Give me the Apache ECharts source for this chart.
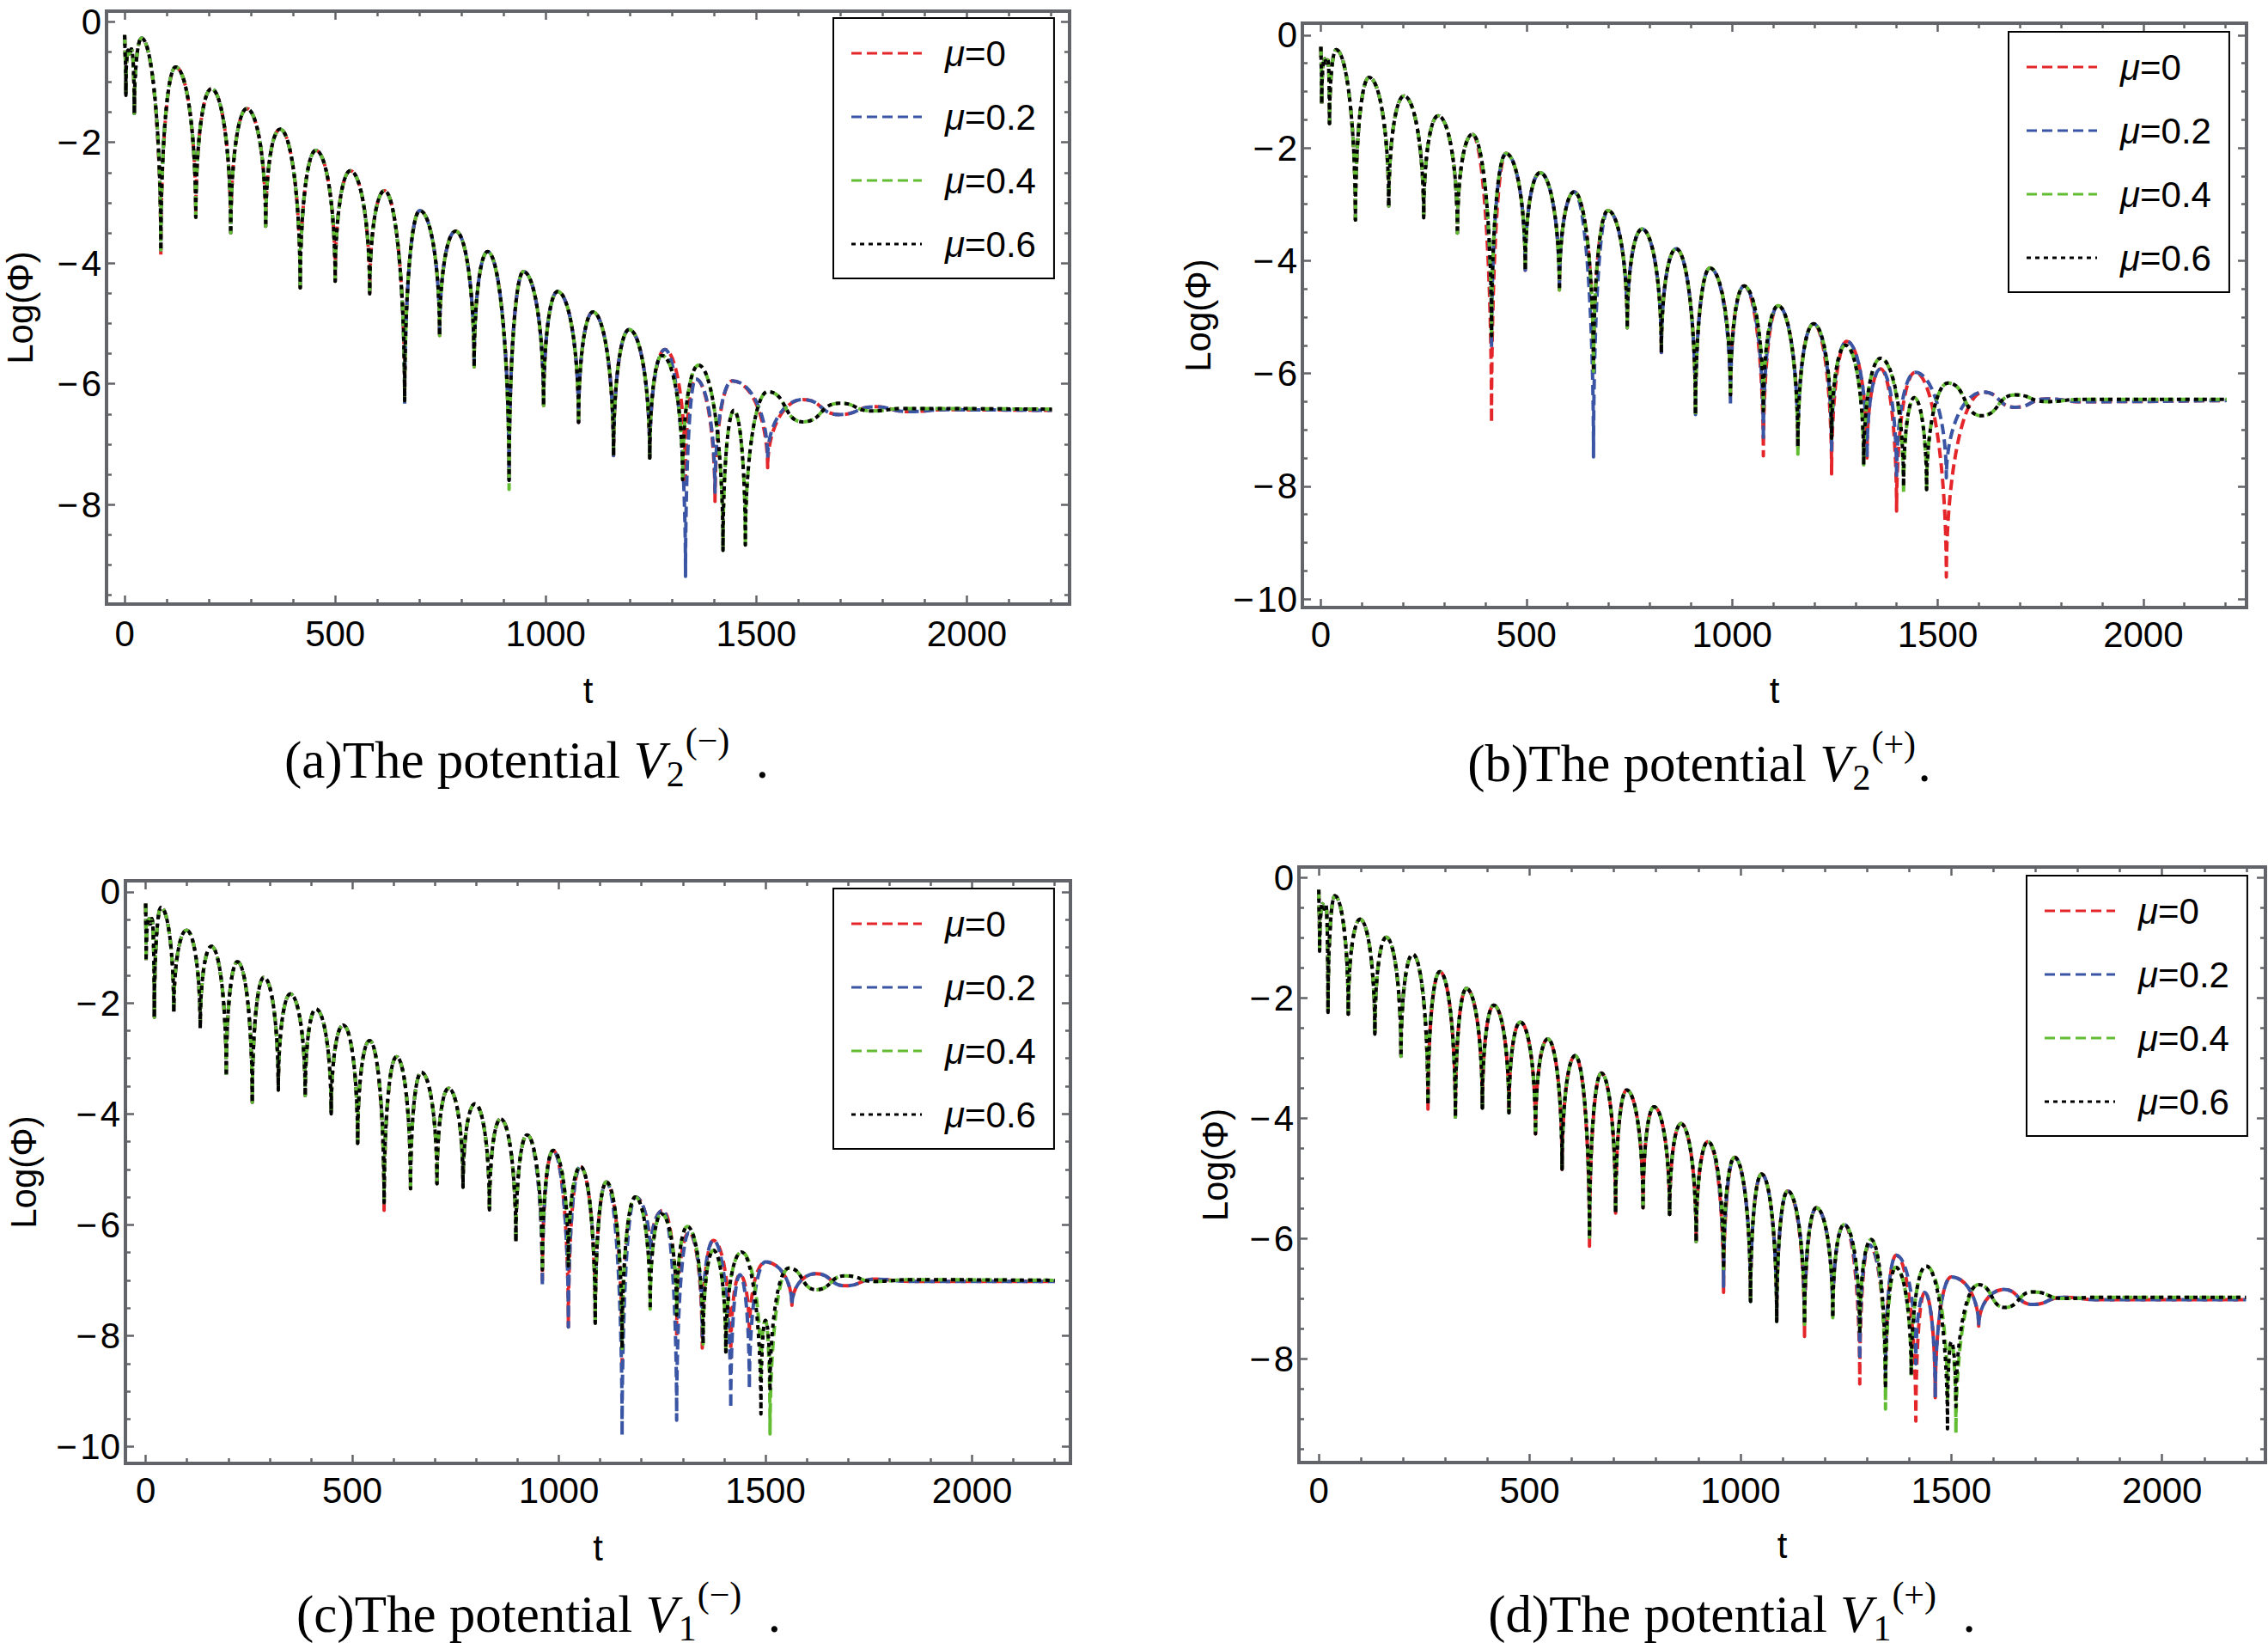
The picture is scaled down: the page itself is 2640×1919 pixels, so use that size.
<!DOCTYPE html>
<html lang="en">
<head>
<meta charset="UTF-8">
<title>Log(Φ) against t for four potentials</title>
<script src="https://cdn.jsdelivr.net/npm/echarts@6/dist/echarts.min.js"></script>
<style>
  html, body { margin: 0; padding: 0; background: #fff; }
  #chart { width: 2640px; height: 1919px; }
</style>
</head>
<body>
<div id="chart"></div>
<script>
// Values: [t, Log(Φ)] at each crest and trough.
// "Head" is the part where all four μ curves coincide, tails split into the
// red/blue pair (μ=0, 0.2) and the green/black pair (μ=0.4, 0.6), and the
// "deep" lists hold troughs where one curve reaches lower than the others.

// (a) V2(-)
var aHead = [[0,-0.22],[3,-1.22],[8,-0.47],[12,-0.53],[16,-0.45],[23,-1.52],[40,-0.27],
  [86,-3.78],[121,-0.75],[169,-3.24],[206,-1.11],[252,-3.5],[290,-1.44],[335,-3.39],[369,-1.78],
  [417,-4.41],[454,-2.13],[500,-4.3],[536,-2.47],[582,-4.51],[617,-2.8],[665,-6.28],[701,-3.13],
  [748,-5.2],[786,-3.47],[830,-5.72],[862,-3.81],[913,-7.6],[947,-4.14],[995,-6.36],[1028,-4.47],
  [1078,-6.64],[1112,-4.81],[1161,-7.19],[1198,-5.1],[1247,-7.23]];
var aTailRB = [[1283,-5.43],[1332,-7.6],[1356,-5.92],[1402,-7.95],[1443,-5.95],[1527,-7.3],
  [1610,-6.26],[1698,-6.51],[1781,-6.38],[1860,-6.46],[1950,-6.43],[2202,-6.44]];
var aTailGK = [[1276,-5.53],[1325,-7.59],[1363,-5.69],[1421,-8.76],[1447,-6.44],[1474,-8.67],
  [1527,-6.13],[1610,-6.63],[1698,-6.32],[1774,-6.45],[1850,-6.41],[2202,-6.42]];
var aDeepR = [[86,-3.89],[1527,-7.39]];
var aDeepB = [[665,-6.36],[1332,-9.19],[1402,-7.8],[1527,-7.23]];
var aDeepG = [[913,-7.75]];
var aDeepK = [];

// (b) V2(+)
var bHead = [[0,-0.21],[2,-1.22],[9,-0.42],[13,-0.5],[17,-0.44],[21,-1.57],[37,-0.26],
  [84,-3.28],[117,-0.75],[165,-3.03],[202,-1.08],[250,-3.24],[285,-1.43],[332,-3.51],[368,-1.76],
  [415,-5.33],[450,-2.1],[497,-4.17],[533,-2.44],[580,-4.52],[616,-2.78],[663,-5.96],[698,-3.11],
  [745,-5.19],[781,-3.44],[828,-5.63],[864,-3.79],[911,-6.73],[946,-4.13],[996,-6.38],[1029,-4.45],
  [1076,-6.66],[1112,-4.8],[1160,-7.3],[1198,-5.12],[1242,-7.15]];
var bTailRB = [[1279,-5.43],[1328,-7.5],[1361,-5.92],[1400,-7.85],[1445,-5.98],[1521,-7.85],
  [1610,-6.33],[1688,-6.6],[1765,-6.45],[1850,-6.5],[2203,-6.48]];
var bTailGK = [[1276,-5.5],[1320,-7.62],[1361,-5.73],[1417,-8.0],[1443,-6.43],[1473,-8.06],
  [1525,-6.17],[1606,-6.75],[1688,-6.38],[1765,-6.5],[1850,-6.46],[2203,-6.46]];
var bDeepR = [[415,-6.87],[1076,-7.46],[1242,-7.78],[1400,-8.44],[1521,-9.61]];
var bDeepB = [[415,-5.54],[663,-7.48],[996,-6.55],[1076,-7.18],[1242,-7.36]];
var bDeepG = [[1160,-7.43],[1417,-8.13]];
var bDeepK = [];

// (c) V1(-)
var cHead = [[0,-0.21],[1,-1.25],[8,-0.48],[12,-0.58],[15,-0.48],[21,-2.26],[37,-0.28],
  [68,-2.17],[99,-0.69],[132,-2.46],[159,-0.98],[195,-3.32],[222,-1.26],[258,-3.79],[286,-1.54],
  [321,-3.57],[350,-1.84],[386,-3.67],[412,-2.11],[449,-4.0],[478,-2.4],[513,-4.53],[542,-2.68],
  [577,-5.6],[607,-2.97],[641,-5.35],[667,-3.25],[705,-5.26],[733,-3.54],[768,-5.32],[797,-3.82],
  [832,-5.73],[859,-4.09],[896,-6.31],[923,-4.38],[960,-6.81],[986,-4.66],[1023,-6.74],[1052,-4.95],
  [1088,-7.77],[1115,-5.23],[1153,-8.23],[1185,-5.5],[1221,-7.52]];
var cTailRB = [[1252,-5.74],[1285,-8.0],[1315,-6.14],[1347,-8.0],[1374,-6.28],[1416,-8.4],
  [1438,-6.9],[1461,-8.0],[1500,-6.67],[1564,-7.45],[1622,-6.88],[1693,-7.1],[1765,-6.98],
  [1850,-7.02],[2200,-7.02]];
var cTailGK = [[1248,-5.8],[1285,-7.63],[1311,-6.03],[1349,-8.15],[1374,-6.46],[1404,-8.29],
  [1442,-6.49],[1489,-8.8],[1500,-7.72],[1511,-9.0],[1556,-6.78],[1622,-7.17],[1693,-6.92],
  [1765,-7.02],[1850,-6.99],[2200,-7.0]];
var cDeepR = [[577,-5.74],[960,-7.0],[1023,-7.84],[1153,-8.5],[1221,-6.6],[1347,-8.22]];
var cDeepB = [[960,-7.11],[1023,-7.84],[1153,-9.8],[1221,-6.6],[1285,-9.52],[1416,-9.3],[1461,-8.95]];
var cDeepG = [[1511,-9.77]];
var cDeepK = [[1489,-9.41]];

// (d) V1(+)
var dHead = [[0,-0.2],[2,-1.22],[9,-0.43],[13,-0.52],[17,-0.45],[22,-2.24],[38,-0.3],
  [70,-2.27],[98,-0.69],[133,-2.6],[160,-0.99],[195,-2.97],[223,-1.27],[259,-3.78],[287,-1.56],
  [324,-3.98],[350,-1.84],[388,-3.83],[415,-2.12],[451,-3.91],[478,-2.4],[514,-4.26],[543,-2.68],
  [577,-4.85],[608,-2.96],[642,-5.98],[670,-3.25],[704,-5.58],[730,-3.53],[769,-5.49],[795,-3.81],
  [832,-5.6],[859,-4.09],[895,-6.05],[923,-4.39],[960,-6.5],[986,-4.65],[1024,-7.05],[1050,-4.93],
  [1086,-7.38],[1112,-5.21],[1152,-7.43],[1180,-5.49],[1219,-7.32],[1246,-5.77]];
var dTailRB = [[1283,-8.02],[1305,-6.11],[1344,-8.3],[1369,-6.28],[1416,-8.09],[1437,-6.9],
  [1462,-8.65],[1500,-6.64],[1565,-7.46],[1624,-6.85],[1693,-7.1],[1765,-6.98],[1850,-7.02],[2199,-7.02]];
var dTailGK = [[1283,-7.59],[1310,-6.02],[1344,-8.5],[1368,-6.48],[1405,-8.28],[1440,-6.46],
  [1491,-8.7],[1500,-7.72],[1511,-8.8],[1564,-6.77],[1627,-7.15],[1693,-6.89],[1765,-7.0],
  [1850,-6.98],[2199,-6.98]];
var dDeepR = [[259,-3.85],[642,-6.13],[960,-6.9],[1152,-7.63],[1283,-8.42],[1344,-8.47],[1416,-9.04]];
var dDeepB = [[960,-6.8]];
var dDeepG = [[1344,-8.84],[1511,-9.24]];
var dDeepK = [[1491,-9.17]];

var NAMES = ['μ=0', 'μ=0.2', 'μ=0.4', 'μ=0.6'];
var X_TICKS = [0, 500, 1000, 1500, 2000];
var X_MINOR = [100, 200, 300, 400, 600, 700, 800, 900, 1100, 1200, 1300, 1400, 1600, 1700, 1800, 1900, 2100, 2200];
var Y_TICKS_8 = [0, -2, -4, -6, -8];
var Y_TICKS_10 = [0, -2, -4, -6, -8, -10];
var Y_MINOR = [-0.5, -1, -1.5, -2.5, -3, -3.5, -4.5, -5, -5.5, -6.5, -7, -7.5, -8.5, -9, -9.5];

var COLORS = ['#e4262b', '#3b55a5', '#63bd33', '#000000'];
var DASHES = [[12, 6], [12, 6], [12, 6], [5, 5]];
var FRAME = '#626469';
var SANS = 'Liberation Sans';
var SERIF = 'Liberation Serif';

var PANELS = [
  { head: aHead, tails: [aTailRB, aTailRB, aTailGK, aTailGK], deep: [aDeepR, aDeepB, aDeepG, aDeepK],
    grid: [124, 13, 1121, 690], x: [-43, 2244], y: [-9.65, 0.175], yTicks: Y_TICKS_8,
    legend: [970, 21], labelGap: 13, tGap: 79, logGap: 80, cap: [613, 903, '(a)', '2', '(\u2212)', true] },
  { head: bHead, tails: [bTailRB, bTailRB, bTailGK, bTailGK], deep: [bDeepR, bDeepB, bDeepG, bDeepK],
    grid: [1516, 27, 1099, 680], x: [-45, 2251], y: [-10.15, 0.21], yTicks: Y_TICKS_10,
    legend: [2338, 37], labelGap: 10, tGap: 75, logGap: 101, cap: [1978, 907, '(b)', '2', '(+)', false] },
  { head: cHead, tails: [cTailRB, cTailRB, cTailGK, cTailGK], deep: [cDeepR, cDeepB, cDeepG, cDeepK],
    grid: [146, 1025, 1100, 678], x: [-49, 2238], y: [-10.3, 0.2], yTicks: Y_TICKS_10,
    legend: [970, 1034], labelGap: 10, tGap: 77, logGap: 98, cap: [627, 1897, '(c)', '1', '(\u2212)', true] },
  { head: dHead, tails: [dTailRB, dTailRB, dTailGK, dTailGK], deep: [dDeepR, dDeepB, dDeepG, dDeepK],
    grid: [1512, 1009, 1125, 693], x: [-47, 2245], y: [-9.73, 0.18], yTicks: Y_TICKS_8,
    legend: [2359, 1019], labelGap: 11, tGap: 75, logGap: 77, cap: [2016, 1897, '(d)', '1', '(+)', true] }
];

// join head + tail and apply the deeper troughs of this curve
function buildSeries(head, tail, deep) {
  var pts = head.concat(tail).map(function (p) { return p.slice(); });
  deep.forEach(function (d) {
    for (var i = 0; i < pts.length; i++) {
      if (pts[i][0] === d[0]) pts[i][1] = d[1];
    }
  });
  return pts;
}

// Path through the points: round crests, and troughs that end in a sharp
// spike (the curve is the log of an oscillating signal).
function curvePath(P, V) {
  var n = P.length, kind = [];
  for (var i = 0; i < n; i++) {
    if (i === 0 || i === n - 1) { kind.push('end'); continue; }
    var a = V[i - 1], b = V[i + 1], v = V[i];
    if (v < a - 0.5 && v < b - 0.5) kind.push('cusp');
    else if ((v >= a && v >= b) || (v <= a && v <= b)) kind.push('ext');
    else kind.push('mono');
  }
  function arm(i, j) {
    var dx = P[j][0] - P[i][0], dy = P[j][1] - P[i][1];
    if (kind[i] === 'cusp') return [P[i][0], P[i][1] + dy * 0.55];
    if (kind[i] === 'ext') return [P[i][0] + dx * 0.55, P[i][1]];
    if (kind[i] === 'mono') {
      var m = (P[i + 1][1] - P[i - 1][1]) / (P[i + 1][0] - P[i - 1][0]);
      return [P[i][0] + dx * 0.4, P[i][1] + m * dx * 0.4];
    }
    return [P[i][0] + dx * 0.4, P[i][1] + dy * 0.4];
  }
  function f(p) { return p[0].toFixed(2) + ' ' + p[1].toFixed(2); }
  var d = 'M' + f(P[0]);
  for (var k = 1; k < n; k++) {
    d += ' C' + f(arm(k - 1, k)) + ' ' + f(arm(k, k - 1)) + ' ' + f(P[k]);
  }
  return d;
}

function dashIcon(dash) {
  var d = [], x = 0;
  while (x < 82) {
    var w = Math.min(dash[0], 82 - x);
    d.push('M' + x + ' 0h' + w + 'v3h-' + w + 'Z');
    x += dash[0] + dash[1];
  }
  return 'path://' + d.join(' ');
}

function minusFmt(v) { return v === 0 ? '0' : '\u2212\u200a' + Math.abs(v); }
function plainFmt(v) { return String(v); }

function xAxisCfg(gi, p, pos, ticks, len, main) {
  return {
    gridIndex: gi, type: 'value', position: pos, min: p.x[0], max: p.x[1],
    axisLine: { show: false, onZero: false }, splitLine: { show: false },
    axisTick: { show: true, inside: true, length: len, customValues: ticks, lineStyle: { color: FRAME, width: 2.5 } },
    axisLabel: main ? { show: true, customValues: ticks, margin: p.labelGap, fontSize: 42, fontFamily: SANS, color: '#000', formatter: plainFmt } : { show: false },
    name: main ? 't' : '', nameLocation: 'middle', nameGap: p.tGap,
    nameTextStyle: { fontSize: 42, fontFamily: SANS, color: '#000' }
  };
}

function yAxisCfg(gi, p, pos, ticks, len, main) {
  return {
    gridIndex: gi, type: 'value', position: pos, min: p.y[0], max: p.y[1],
    axisLine: { show: false, onZero: false }, splitLine: { show: false },
    axisTick: { show: true, inside: true, length: len, customValues: ticks, lineStyle: { color: FRAME, width: 2.5 } },
    axisLabel: main ? { show: true, customValues: ticks, margin: 6, fontSize: 42, fontFamily: SANS, color: '#000', formatter: minusFmt } : { show: false },
    name: main ? 'Log(Φ)' : '', nameLocation: 'middle', nameRotate: 90, nameGap: p.logGap,
    nameTextStyle: { fontSize: 42, fontFamily: SANS, color: '#000' }
  };
}

// caption "(x)The potential V_n^(±) ." laid out from measured text widths
var measureCtx = document.createElement('canvas').getContext('2d');
function textW(txt, size, italic) {
  measureCtx.font = (italic ? 'italic ' : '') + size + 'px "' + SERIF + '"';
  return measureCtx.measureText(txt).width;
}
function captionParts(c) {
  var cx = c[0], base = c[1], tag = c[2], sub = c[3], sup = c[4], spaced = c[5];
  var FS = 61, SS = 42;
  var lead = tag + 'The potential';
  var wLead = textW(lead + ' ', FS), wV = textW('V', FS, true), wSub = textW(sub, SS);
  var subDx = wV + 1, supDx = subDx + wSub + 1;
  var after = supDx + textW(sup, SS);
  var dotDx = after + (spaced ? 0.5 * FS : 0.04 * FS);
  var total = wLead + dotDx + textW('.', FS);
  var x0 = cx - total / 2, xV = x0 + wLead;
  function t(txt, x, baseline, size, italic, lh) {
    return {
      type: 'text', x: x, y: baseline - 0.3 * size, silent: true,
      style: { text: txt, fontSize: size, fontFamily: SERIF, fontStyle: italic ? 'italic' : 'normal',
        lineHeight: size * lh, fill: '#000', align: 'left', verticalAlign: 'middle' }
    };
  }
  return [
    t(lead, x0, base, FS, false, 0.8),
    t('V', xV, base, FS, true, 0.8),
    t(sub, xV + subDx, base + 11, SS, false, 0.6),
    t(sup, xV + supDx, base - 28, SS, false, 0.7),
    t('.', xV + dotDx, base, FS, false, 0.8)
  ];
}

function makeRenderer(color, dash) {
  return function (params, api) {
    if (params.dataIndexInside !== 0) return null;   // one path for the whole curve
    var n = params.dataInsideLength, P = [], V = [];
    for (var j = 0; j < n; j++) {
      var t = api.value(0, j), v = api.value(1, j);
      P.push(api.coord([t, v]));
      V.push(v);
    }
    return {
      type: 'path',
      shape: { pathData: curvePath(P, V) },
      style: { stroke: color, lineWidth: 4, lineDash: dash, fill: null, lineJoin: 'round' }
    };
  };
}

var grids = [], xAxes = [], yAxes = [], series = [], legends = [], graphics = [];

PANELS.forEach(function (p, gi) {
  grids.push({ left: p.grid[0], top: p.grid[1], width: p.grid[2], height: p.grid[3],
    show: true, borderColor: FRAME, borderWidth: 4, backgroundColor: 'transparent' });
  var xi = xAxes.length, yi = yAxes.length;
  xAxes.push(xAxisCfg(gi, p, 'bottom', X_TICKS, 10, true));
  xAxes.push(xAxisCfg(gi, p, 'bottom', X_MINOR, 6, false));
  xAxes.push(xAxisCfg(gi, p, 'top', X_TICKS, 10, false));
  xAxes.push(xAxisCfg(gi, p, 'top', X_MINOR, 6, false));
  yAxes.push(yAxisCfg(gi, p, 'left', p.yTicks, 10, true));
  yAxes.push(yAxisCfg(gi, p, 'left', Y_MINOR, 6, false));
  yAxes.push(yAxisCfg(gi, p, 'right', p.yTicks, 10, false));
  yAxes.push(yAxisCfg(gi, p, 'right', Y_MINOR, 6, false));

  NAMES.forEach(function (name, k) {
    series.push({
      type: 'custom', name: name, coordinateSystem: 'cartesian2d',
      xAxisIndex: xi, yAxisIndex: yi, clip: true, animation: false,
      encode: { x: 0, y: 1 },
      data: buildSeries(p.head, p.tails[k], p.deep[k]),
      itemStyle: { color: COLORS[k] },
      renderItem: makeRenderer(COLORS[k], DASHES[k])
    });
  });

  legends.push({
    left: p.legend[0], top: p.legend[1], orient: 'vertical',
    data: NAMES.map(function (n, k) { return { name: n, icon: dashIcon(DASHES[k]) }; }),
    itemWidth: 82, itemHeight: 14, itemGap: 32, padding: [20, 21, 19, 21],
    borderColor: '#000', borderWidth: 2, backgroundColor: '#fff', selectedMode: false,
    formatter: function (n) { return '{s| }{m|μ}{n|' + n.slice(1) + '}'; },
    textStyle: {
      fontSize: 42, lineHeight: 42, color: '#000', fontFamily: SANS,
      rich: {
        s: { width: 22 },
        m: { fontSize: 42, fontStyle: 'italic', fontFamily: SANS, color: '#000' },
        n: { fontSize: 42, fontFamily: SANS, color: '#000' }
      }
    }
  });

  graphics = graphics.concat(captionParts(p.cap));
});

var chart = echarts.init(document.getElementById('chart'), null, { renderer: 'svg' });
chart.setOption({
  backgroundColor: '#fff',
  animation: false,
  grid: grids,
  xAxis: xAxes,
  yAxis: yAxes,
  legend: legends,
  series: series,
  graphic: graphics
});
</script>
</body>
</html>
